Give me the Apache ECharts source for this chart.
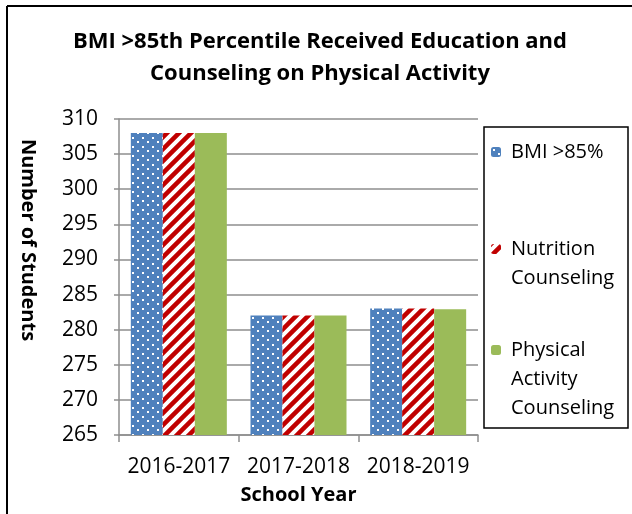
<!DOCTYPE html>
<html><head><meta charset="utf-8">
<script src="https://cdn.jsdelivr.net/npm/echarts@6/dist/echarts.min.js"></script>
<style>html,body{margin:0;padding:0;background:#fff}#c{width:632px;height:514px}</style>
</head><body><div id="c"></div>
<script>
const categories = ['2016-2017', '2017-2018', '2018-2019'];
const seriesNames = ['BMI >85%', 'Nutrition\nCounseling', 'Physical\nActivity\nCounseling'];
const bmiValues = [308, 282, 283];
const nutritionValues = [308, 282, 283];
const activityValues = [308, 282, 282.9];
const yTicks = [265, 270, 275, 280, 285, 290, 295, 300, 305, 310];

function dotPattern() {
  const c = document.createElement('canvas'); c.width = 10; c.height = 9;
  const g = c.getContext('2d');
  g.fillStyle = '#4F81BD'; g.fillRect(0, 0, 10, 9);
  g.fillStyle = '#ffffff';
  g.fillRect(2, 2, 2, 2); g.fillRect(7, 6, 2, 2);
  return c;
}
function stripePattern() {
  const s = 12;
  const c = document.createElement('canvas'); c.width = s; c.height = s;
  const g = c.getContext('2d');
  g.fillStyle = '#ffffff'; g.fillRect(0, 0, s, s);
  g.strokeStyle = '#C00000'; g.lineWidth = 4.5;
  g.beginPath();
  g.moveTo(-s/2, s/2); g.lineTo(s/2, -s/2);
  g.moveTo(0, s); g.lineTo(s, 0);
  g.moveTo(s/2, s*1.5); g.lineTo(s*1.5, s/2);
  g.stroke();
  return c;
}
const blueFill = {image: dotPattern(), repeat: 'repeat'};
const redFill = {image: stripePattern(), repeat: 'repeat'};
const greenFill = '#9BBB59';

const FONT = 'Open Sans';
const LH = 29;
const chart = echarts.init(document.getElementById('c'), null, {renderer: 'canvas'});
const legendText = {fontFamily: FONT, fontSize: 20, color: '#000', lineHeight: LH, padding: [0, 0, 0, 5]};
function legendAt(idx, centerY, blankLines) {
  const lines = 1 + 2 * blankLines;
  return {
    data: [seriesNames[idx]], left: 491, top: centerY - lines * LH / 2,
    padding: 0, itemWidth: 10, itemHeight: 10, itemGap: 0,
    textStyle: legendText, selectedMode: false,
    formatter: function (name) { return '\n'.repeat(blankLines) + name; }
  };
}
chart.setOption({
  backgroundColor: '#fff',
  animation: false,
  title: {
    text: 'BMI >85th Percentile Received Education and\nCounseling on Physical Activity',
    left: 320, top: 26, textAlign: 'center', padding: 0,
    textStyle: {fontFamily: FONT, fontWeight: 'bold', fontSize: 22, lineHeight: 32, color: '#000'}
  },
  graphic: [
    {type: 'line', shape: {x1: 7, y1: 6, x2: 632, y2: 6}, style: {stroke: '#000', lineWidth: 2}},
    {type: 'line', shape: {x1: 7, y1: 6, x2: 7, y2: 514}, style: {stroke: '#000', lineWidth: 2}},
    {type: 'rect', shape: {x: 484, y: 127, width: 144, height: 301}, style: {fill: 'none', stroke: '#000', lineWidth: 1.5}}
  ],
  legend: [legendAt(0, 152, 0), legendAt(1, 249, 1), legendAt(2, 350, 2)],
  grid: {left: 119, right: 154, top: 119, bottom: 79, containLabel: false},
  xAxis: {
    type: 'category', data: categories,
    name: 'School Year', nameLocation: 'middle', nameGap: 50,
    nameTextStyle: {fontFamily: FONT, fontWeight: 'bold', fontSize: 20, color: '#000'},
    axisLine: {lineStyle: {color: '#8E8E8E', width: 1.5}},
    axisTick: {show: true, length: 7, lineStyle: {color: '#8E8E8E', width: 1.5}},
    axisLabel: {fontFamily: FONT, fontSize: 21, color: '#000', margin: 22, interval: 0}
  },
  yAxis: {
    type: 'value', min: yTicks[0], max: yTicks[yTicks.length - 1], interval: 5,
    name: 'Number of Students', nameLocation: 'middle', nameGap: 81, nameRotate: -90,
    nameTextStyle: {fontFamily: FONT, fontWeight: 'bold', fontSize: 20, color: '#000', padding: [0, 74, 0, 0]},
    axisLine: {show: true, lineStyle: {color: '#8E8E8E', width: 1.5}},
    axisTick: {show: true, length: 5, lineStyle: {color: '#8E8E8E', width: 1.5}},
    splitLine: {lineStyle: {color: '#8E8E8E', width: 1.5}},
    axisLabel: {fontFamily: FONT, fontSize: 21, color: '#000', margin: 21}
  },
  series: [
    {name: seriesNames[0], type: 'bar', data: bmiValues, barWidth: 32, barGap: '0%', itemStyle: {color: blueFill}},
    {name: seriesNames[1], type: 'bar', data: nutritionValues, barWidth: 32, barGap: '0%', itemStyle: {color: redFill}},
    {name: seriesNames[2], type: 'bar', data: activityValues, barWidth: 32, barGap: '0%', itemStyle: {color: greenFill}}
  ]
});
</script></body></html>
